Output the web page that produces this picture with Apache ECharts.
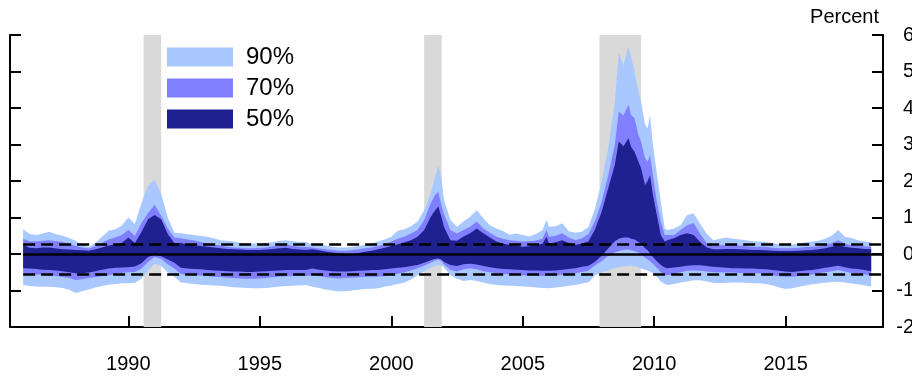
<!DOCTYPE html>
<html>
<head>
<meta charset="utf-8">
<script src="https://cdn.jsdelivr.net/npm/echarts@6/dist/echarts.min.js"></script>
<style>
  html, body { margin: 0; padding: 0; background: #fff; }
  #chart { width: 912px; height: 376px; }
</style>
</head>
<body>
<div id="chart"></div>
<script>
// time in decimal years
var dates = [
    1986.00, 1986.25, 1986.50, 1986.75, 1987.00, 1987.25, 1987.50, 1987.75,
    1988.00, 1988.25, 1988.50, 1988.75, 1989.00, 1989.25, 1989.50, 1989.75,
    1990.00, 1990.25, 1990.50, 1990.75, 1991.00, 1991.25, 1991.50, 1991.75,
    1992.00, 1992.25, 1992.50, 1992.75, 1993.00, 1993.25, 1993.50, 1993.75,
    1994.00, 1994.25, 1994.50, 1994.75, 1995.00, 1995.25, 1995.50, 1995.75,
    1996.00, 1996.25, 1996.50, 1996.75, 1997.00, 1997.25, 1997.50, 1997.75,
    1998.00, 1998.25, 1998.50, 1998.75, 1999.00, 1999.25, 1999.50, 1999.75,
    2000.00, 2000.25, 2000.50, 2000.75, 2001.00, 2001.25, 2001.50, 2001.67,
    2001.79, 2001.92, 2002.00, 2002.25, 2002.50, 2002.75, 2003.00, 2003.25,
    2003.50, 2003.75, 2004.00, 2004.25, 2004.50, 2004.75, 2005.00, 2005.25,
    2005.50, 2005.75, 2005.90, 2006.00, 2006.25, 2006.50, 2006.75, 2007.00,
    2007.25, 2007.50, 2007.75, 2008.00, 2008.25, 2008.50, 2008.65, 2008.83,
    2009.02, 2009.12, 2009.25, 2009.40, 2009.50, 2009.65, 2009.75, 2009.84,
    2009.95, 2010.10, 2010.25, 2010.40, 2010.50, 2010.75, 2011.00, 2011.25,
    2011.50, 2011.75, 2012.00, 2012.25, 2012.50, 2012.75, 2013.00, 2013.25,
    2013.50, 2013.75, 2014.00, 2014.25, 2014.50, 2014.75, 2015.00, 2015.25,
    2015.50, 2015.75, 2016.00, 2016.25, 2016.50, 2016.75, 2017.00, 2017.25,
    2017.50, 2017.75, 2018.00, 2018.25
];

// lower edge of 90% band
var p05 = [
    -0.85, -0.88, -0.89, -0.90, -0.90, -0.91, -0.93, -0.98,
    -1.07, -1.02, -0.97, -0.92, -0.88, -0.84, -0.82, -0.80,
    -0.80, -0.79, -0.68, -0.45, -0.27, -0.32, -0.50, -0.62,
    -0.78, -0.80, -0.82, -0.84, -0.85, -0.86, -0.87, -0.89,
    -0.91, -0.92, -0.93, -0.94, -0.94, -0.93, -0.91, -0.89,
    -0.88, -0.87, -0.86, -0.85, -0.90, -0.93, -0.97, -1.00,
    -1.03, -1.02, -1.00, -0.98, -0.96, -0.95, -0.94, -0.90,
    -0.86, -0.82, -0.78, -0.70, -0.58, -0.48, -0.38, -0.32,
    -0.30, -0.32, -0.37, -0.58, -0.68, -0.74, -0.71, -0.74,
    -0.78, -0.82, -0.85, -0.86, -0.87, -0.88, -0.89, -0.90,
    -0.92, -0.93, -0.93, -0.94, -0.92, -0.90, -0.87, -0.85,
    -0.81, -0.78, -0.58, -0.50, -0.45, -0.38, -0.36, -0.34,
    -0.32, -0.32, -0.33, -0.36, -0.40, -0.43, -0.45, -0.48,
    -0.53, -0.62, -0.75, -0.82, -0.85, -0.82, -0.78, -0.75,
    -0.72, -0.72, -0.75, -0.79, -0.80, -0.79, -0.78, -0.78,
    -0.79, -0.80, -0.80, -0.82, -0.86, -0.92, -0.96, -0.94,
    -0.90, -0.86, -0.83, -0.81, -0.79, -0.77, -0.76, -0.78,
    -0.81, -0.83, -0.86, -0.89
];

// lower edge of 70% band
var p15 = [
    -0.53, -0.55, -0.56, -0.57, -0.58, -0.60, -0.63, -0.66,
    -0.71, -0.69, -0.66, -0.63, -0.61, -0.58, -0.55, -0.52,
    -0.50, -0.49, -0.40, -0.22, -0.08, -0.14, -0.28, -0.40,
    -0.55, -0.57, -0.58, -0.59, -0.60, -0.62, -0.63, -0.65,
    -0.66, -0.67, -0.68, -0.68, -0.67, -0.66, -0.64, -0.62,
    -0.61, -0.60, -0.60, -0.60, -0.58, -0.61, -0.64, -0.66,
    -0.67, -0.66, -0.65, -0.64, -0.63, -0.62, -0.62, -0.60,
    -0.57, -0.54, -0.50, -0.45, -0.39, -0.32, -0.24, -0.18,
    -0.16, -0.20, -0.28, -0.44, -0.48, -0.42, -0.39, -0.42,
    -0.47, -0.50, -0.53, -0.55, -0.56, -0.57, -0.58, -0.59,
    -0.59, -0.60, -0.60, -0.60, -0.59, -0.57, -0.55, -0.53,
    -0.49, -0.46, -0.31, -0.20, -0.05, 0.05, 0.08, 0.11,
    0.12, 0.10, 0.08, 0.04, 0.00, -0.10, -0.15, -0.20,
    -0.27, -0.38, -0.50, -0.56, -0.58, -0.55, -0.50, -0.46,
    -0.45, -0.46, -0.48, -0.50, -0.50, -0.51, -0.51, -0.52,
    -0.52, -0.53, -0.53, -0.55, -0.58, -0.61, -0.62, -0.62,
    -0.60, -0.58, -0.56, -0.53, -0.50, -0.47, -0.44, -0.48,
    -0.52, -0.53, -0.56, -0.59
];

// lower edge of 50% band
var p25 = [
    -0.39, -0.40, -0.41, -0.43, -0.44, -0.45, -0.47, -0.50,
    -0.53, -0.53, -0.51, -0.47, -0.43, -0.40, -0.38, -0.37,
    -0.36, -0.34, -0.25, -0.08, -0.02, -0.06, -0.15, -0.24,
    -0.38, -0.40, -0.41, -0.42, -0.44, -0.45, -0.46, -0.47,
    -0.48, -0.48, -0.49, -0.49, -0.48, -0.47, -0.46, -0.45,
    -0.44, -0.44, -0.44, -0.44, -0.40, -0.43, -0.45, -0.47,
    -0.48, -0.48, -0.47, -0.46, -0.45, -0.44, -0.44, -0.42,
    -0.40, -0.38, -0.36, -0.33, -0.30, -0.24, -0.17, -0.13,
    -0.12, -0.16, -0.22, -0.30, -0.33, -0.28, -0.27, -0.29,
    -0.33, -0.36, -0.39, -0.41, -0.42, -0.43, -0.44, -0.45,
    -0.45, -0.46, -0.46, -0.46, -0.45, -0.43, -0.41, -0.39,
    -0.35, -0.32, -0.21, -0.05, 0.15, 0.35, 0.42, 0.45,
    0.45, 0.42, 0.40, 0.33, 0.28, 0.16, 0.10, 0.02,
    -0.08, -0.20, -0.30, -0.37, -0.39, -0.37, -0.35, -0.32,
    -0.31, -0.31, -0.33, -0.35, -0.36, -0.38, -0.39, -0.39,
    -0.40, -0.40, -0.41, -0.42, -0.44, -0.46, -0.48, -0.49,
    -0.47, -0.45, -0.44, -0.41, -0.38, -0.35, -0.32, -0.36,
    -0.40, -0.41, -0.44, -0.47
];

// upper edge of 50% band
var p75 = [
    0.25, 0.17, 0.16, 0.18, 0.18, 0.15, 0.13, 0.12,
    0.11, 0.10, 0.09, 0.13, 0.18, 0.23, 0.26, 0.30,
    0.45, 0.30, 0.60, 0.95, 1.07, 0.95, 0.55, 0.30,
    0.30, 0.26, 0.24, 0.22, 0.20, 0.18, 0.16, 0.14,
    0.13, 0.12, 0.11, 0.11, 0.11, 0.12, 0.14, 0.16,
    0.17, 0.14, 0.12, 0.11, 0.13, 0.10, 0.07, 0.04,
    0.02, 0.01, 0.00, 0.03, 0.06, 0.09, 0.13, 0.17,
    0.22, 0.27, 0.32, 0.38, 0.47, 0.66, 1.02, 1.20,
    1.30, 0.98, 0.75, 0.38, 0.36, 0.48, 0.57, 0.70,
    0.57, 0.45, 0.34, 0.29, 0.25, 0.23, 0.20, 0.21,
    0.24, 0.28, 0.47, 0.29, 0.32, 0.38, 0.30, 0.25,
    0.29, 0.35, 0.68, 1.16, 1.80, 2.44, 3.08, 2.95,
    3.17, 2.94, 2.80, 2.53, 2.35, 1.89, 2.00, 2.16,
    1.62, 1.07, 0.52, 0.34, 0.38, 0.43, 0.52, 0.57,
    0.52, 0.33, 0.18, 0.13, 0.13, 0.14, 0.14, 0.13,
    0.12, 0.11, 0.11, 0.10, 0.09, 0.08, 0.08, 0.08,
    0.09, 0.10, 0.11, 0.13, 0.16, 0.20, 0.25, 0.20,
    0.17, 0.16, 0.14, 0.13
];

// upper edge of 70% band
var p85 = [
    0.41, 0.35, 0.34, 0.36, 0.38, 0.35, 0.33, 0.28,
    0.22, 0.18, 0.15, 0.22, 0.31, 0.40, 0.45, 0.52,
    0.66, 0.50, 0.85, 1.12, 1.35, 1.05, 0.70, 0.45,
    0.43, 0.40, 0.37, 0.33, 0.29, 0.26, 0.23, 0.20,
    0.18, 0.17, 0.16, 0.16, 0.17, 0.18, 0.21, 0.25,
    0.27, 0.22, 0.20, 0.19, 0.18, 0.15, 0.13, 0.11,
    0.09, 0.09, 0.10, 0.13, 0.16, 0.18, 0.22, 0.27,
    0.34, 0.42, 0.48, 0.56, 0.66, 0.93, 1.39, 1.62,
    1.70, 1.30, 1.10, 0.66, 0.56, 0.66, 0.75, 0.89,
    0.70, 0.58, 0.47, 0.42, 0.38, 0.36, 0.34, 0.35,
    0.37, 0.42, 0.66, 0.47, 0.50, 0.57, 0.45, 0.38,
    0.43, 0.55, 0.91, 1.43, 2.16, 2.99, 3.90, 3.80,
    4.08, 3.81, 3.72, 3.26, 3.08, 2.62, 2.53, 2.71,
    2.16, 1.43, 0.89, 0.52, 0.52, 0.52, 0.66, 0.79,
    0.85, 0.55, 0.30, 0.24, 0.24, 0.25, 0.25, 0.23,
    0.21, 0.20, 0.20, 0.19, 0.17, 0.16, 0.16, 0.16,
    0.17, 0.19, 0.20, 0.21, 0.24, 0.30, 0.38, 0.28,
    0.24, 0.23, 0.21, 0.20
];

// upper edge of 90% band
var p95 = [
    0.68, 0.55, 0.52, 0.56, 0.61, 0.54, 0.50, 0.44,
    0.36, 0.25, 0.20, 0.30, 0.47, 0.64, 0.68, 0.78,
    1.00, 0.82, 1.40, 1.86, 2.03, 1.65, 1.00, 0.58,
    0.57, 0.54, 0.52, 0.49, 0.47, 0.43, 0.38, 0.36,
    0.34, 0.31, 0.29, 0.29, 0.30, 0.31, 0.32, 0.36,
    0.38, 0.35, 0.33, 0.33, 0.27, 0.25, 0.23, 0.20,
    0.18, 0.18, 0.19, 0.22, 0.25, 0.29, 0.34, 0.40,
    0.47, 0.64, 0.68, 0.76, 0.89, 1.20, 1.66, 2.10,
    2.44, 2.00, 1.50, 0.93, 0.75, 0.89, 1.02, 1.20,
    0.98, 0.79, 0.70, 0.63, 0.53, 0.56, 0.52, 0.48,
    0.55, 0.65, 0.93, 0.75, 0.76, 0.84, 0.62, 0.58,
    0.61, 0.75, 1.25, 1.98, 2.90, 4.17, 5.50, 5.18,
    5.68, 5.40, 5.00, 4.45, 4.17, 3.55, 3.44, 3.81,
    3.00, 2.20, 1.43, 0.70, 0.66, 0.70, 0.79, 1.07,
    1.11, 0.82, 0.55, 0.38, 0.42, 0.45, 0.42, 0.40,
    0.38, 0.35, 0.34, 0.33, 0.30, 0.27, 0.26, 0.26,
    0.29, 0.32, 0.34, 0.36, 0.42, 0.50, 0.66, 0.47,
    0.44, 0.38, 0.34, 0.32
];

var recessions = [[1990.58, 1991.25], [2001.25, 2001.92], [2007.92, 2009.50]];
var refLines = [0.28, -0.56];
var yearTicks = [1990, 1995, 2000, 2005, 2010, 2015];

var xMin = 1985.5, xMax = 2018.7;
var font = "'Liberation Sans', Arial, Helvetica, sans-serif";
var light = '#a8c8ff', mid = '#8080ff', dark = '#1f2191';

// one filled polygon per band, built from the percentile arrays through the axes
function band(name, color, lo, hi, z) {
    return {
        name: name,
        type: 'custom',
        silent: true,
        clip: true,
        z: z,
        itemStyle: { color: color },
        encode: { x: 0, y: [1, 2] },
        data: dates.map(function (d, i) { return [d, lo[i], hi[i]]; }),
        renderItem: function (params, api) {
            if (params.dataIndex !== 0) return null;
            var pts = [];
            for (var i = 0; i < dates.length; i++) pts.push(api.coord([dates[i], hi[i]]));
            for (var j = dates.length - 1; j >= 0; j--) pts.push(api.coord([dates[j], lo[j]]));
            return {
                type: 'polygon',
                shape: { points: pts },
                style: { fill: color, stroke: null }
            };
        }
    };
}

var lineData = refLines.map(function (v) {
    return [{ coord: [dates[0], v] }, { coord: [xMax, v] }];
});
lineData.push([{ coord: [dates[0], 0], lineStyle: { type: 'solid' } }, { coord: [xMax, 0] }]);

var option = {
    animation: false,
    grid: { left: 10, right: 29, top: 35, bottom: 49, containLabel: false, outerBoundsMode: 'none' },
    legend: {
        data: ['90%', '70%', '50%'],
        orient: 'vertical',
        left: 167,
        top: 45,
        icon: 'rect',
        itemWidth: 66,
        itemHeight: 19,
        itemGap: 7,
        padding: 0,
        selectedMode: false,
        itemStyle: { borderWidth: 0 },
        textStyle: { fontSize: 24, color: '#000', fontFamily: font, padding: [0, 0, 0, 8] }
    },
    graphic: [{
        type: 'text',
        x: 879,
        y: 17,
        style: {
            text: 'Percent',
            fill: '#000',
            font: '20px ' + font,
            align: 'right',
            verticalAlign: 'middle'
        }
    }],
    xAxis: {
        type: 'value',
        min: xMin,
        max: xMax,
        axisLine: { show: true, onZero: false, lineStyle: { color: '#000', width: 2 } },
        axisTick: {
            show: true, inside: true, length: 11,
            customValues: yearTicks,
            lineStyle: { color: '#000', width: 2 }
        },
        axisLabel: {
            customValues: yearTicks,
            formatter: function (v) { return String(v); },
            fontSize: 20, color: '#000', fontFamily: font, margin: 27
        },
        splitLine: { show: false }
    },
    yAxis: [{
        type: 'value',
        position: 'left',
        min: -2, max: 6, interval: 1,
        axisLine: { show: true, onZero: false, lineStyle: { color: '#000', width: 2 } },
        axisTick: { show: true, inside: true, length: 11, lineStyle: { color: '#000', width: 2 } },
        axisLabel: { show: false },
        splitLine: { show: false }
    }, {
        type: 'value',
        position: 'right',
        min: -2, max: 6, interval: 1,
        axisLine: { show: true, onZero: false, lineStyle: { color: '#000', width: 2 } },
        axisTick: { show: true, inside: true, length: 11, lineStyle: { color: '#000', width: 2 } },
        axisLabel: { fontSize: 20, color: '#000', fontFamily: font, margin: 31, align: 'right' },
        splitLine: { show: false }
    }],
    series: [
        {
            // recession shading
            type: 'line',
            symbol: 'none',
            silent: true,
            z: 1,
            data: [[dates[0], 0]],
            lineStyle: { opacity: 0 },
            markArea: {
                silent: true,
                itemStyle: { color: '#d9d9d9' },
                data: recessions.map(function (r) {
                    return [{ xAxis: r[0] }, { xAxis: r[1] }];
                })
            }
        },
        band('90%', light, p05, p95, 2),
        band('70%', mid, p15, p85, 3),
        band('50%', dark, p25, p75, 4),
        {
            // reference lines
            type: 'line',
            symbol: 'none',
            silent: true,
            z: 5,
            data: [[dates[0], 0]],
            lineStyle: { opacity: 0 },
            markLine: {
                silent: true,
                symbol: ['none', 'none'],
                label: { show: false },
                lineStyle: { color: '#000', width: 2.5, type: [12, 6] },
                data: lineData
            }
        }
    ]
};

var chart = echarts.init(document.getElementById('chart'));
chart.setOption(option);
</script>
</body>
</html>
